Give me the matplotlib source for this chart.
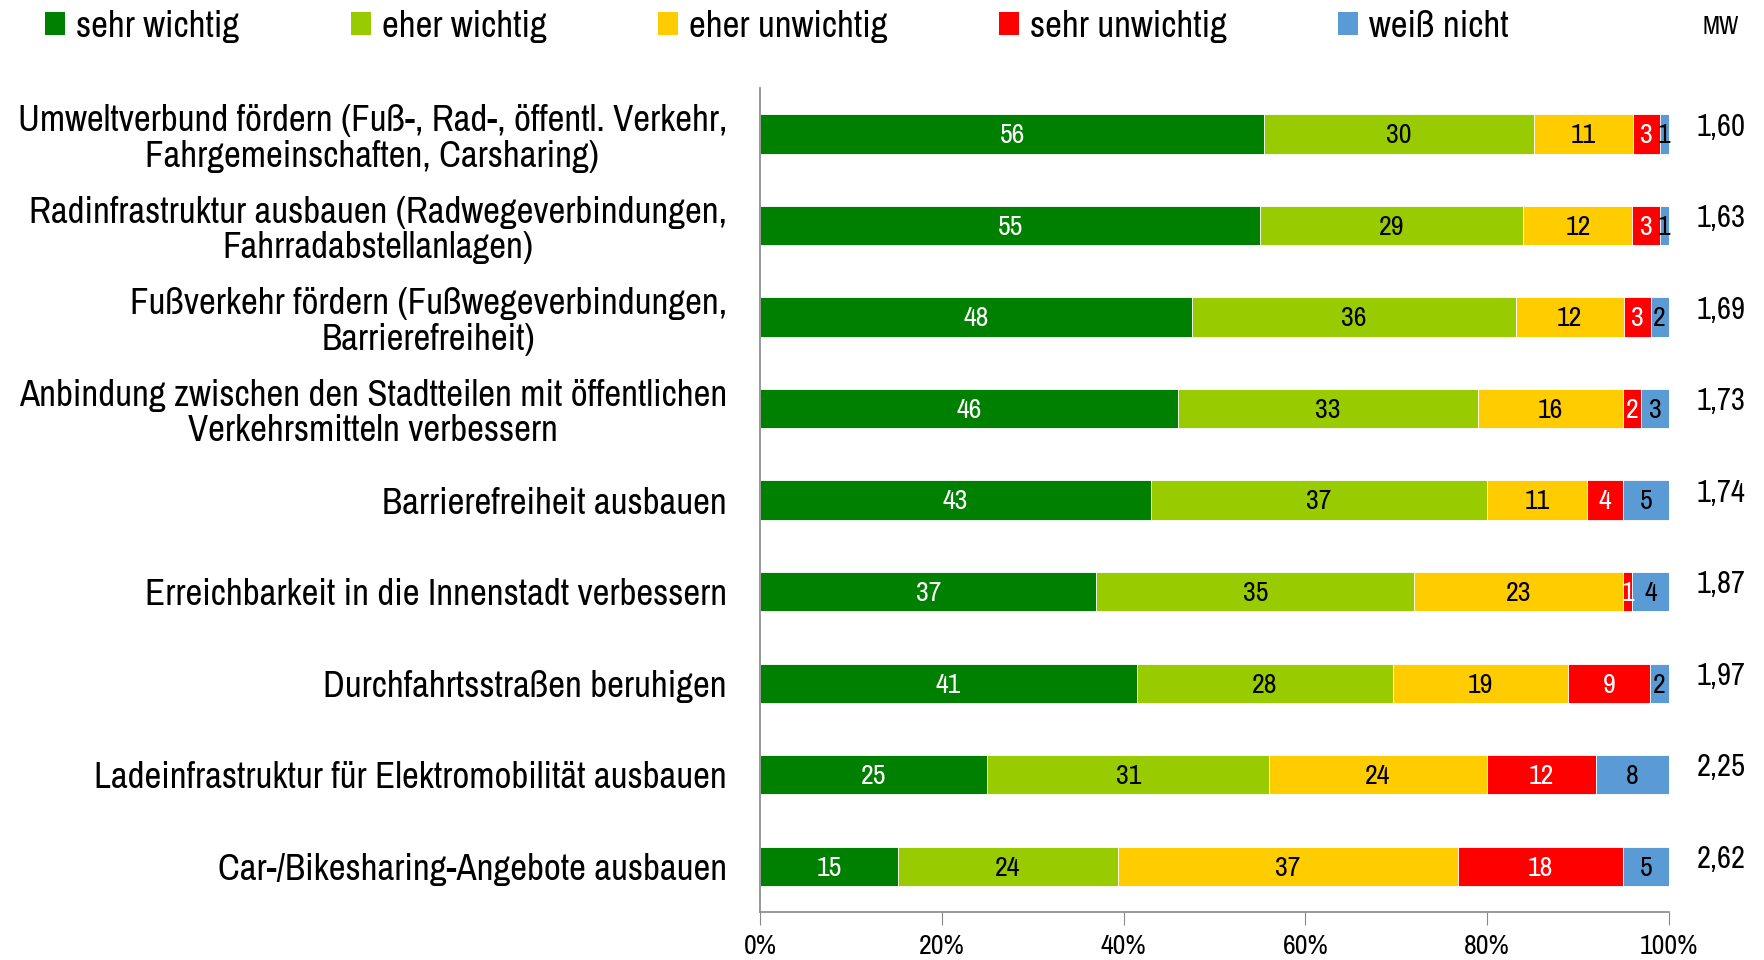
import matplotlib
matplotlib.use("Agg")
import matplotlib.pyplot as plt
from matplotlib.patches import Patch
import numpy as np

plt.rcParams['font.family'] = ['Archivo Narrow', 'DejaVu Sans']

categories = [
    "Umweltverbund fördern (Fuß-, Rad-, öffentl. Verkehr,\nFahrgemeinschaften, Carsharing)",
    "Radinfrastruktur ausbauen (Radwegeverbindungen,\nFahrradabstellanlagen)",
    "Fußverkehr fördern (Fußwegeverbindungen,\nBarrierefreiheit)",
    "Anbindung zwischen den Stadtteilen mit öffentlichen\nVerkehrsmitteln verbessern",
    "Barrierefreiheit ausbauen",
    "Erreichbarkeit in die Innenstadt verbessern",
    "Durchfahrtsstraßen beruhigen",
    "Ladeinfrastruktur für Elektromobilität ausbauen",
    "Car-/Bikesharing-Angebote ausbauen",
]
series_names = ["sehr wichtig", "eher wichtig", "eher unwichtig", "sehr unwichtig", "weiß nicht"]
sehr_wichtig   = [56, 55, 48, 46, 43, 37, 41, 25, 15]
eher_wichtig   = [30, 29, 36, 33, 37, 35, 28, 31, 24]
eher_unwichtig = [11, 12, 12, 16, 11, 23, 19, 24, 37]
sehr_unwichtig = [3, 3, 3, 2, 4, 1, 9, 12, 18]
weiss_nicht    = [1, 1, 2, 3, 5, 4, 2, 8, 5]
mw = ["1,60", "1,63", "1,69", "1,73", "1,74", "1,87", "1,97", "2,25", "2,62"]
xticklabels = ["0%", "20%", "40%", "60%", "80%", "100%"]

colors = ["#008000", "#99CC00", "#FFCC00", "#FF0000", "#5B9BD5"]
text_colors = ["white", "black", "black", "white", "black"]

data = np.array([sehr_wichtig, eher_wichtig, eher_unwichtig, sehr_unwichtig, weiss_nicht], dtype=float)
share = data / data.sum(axis=0) * 100

fig = plt.figure(figsize=(17.64, 9.6), dpi=100)
ax = fig.add_axes([0.431, 0.05, 0.515, 0.858])
y = np.arange(len(categories))
left = np.zeros(len(categories))
for i in range(5):
    bars = ax.barh(y, share[i], left=left, height=0.43, color=colors[i],
                   edgecolor="white", linewidth=0.6, label=series_names[i])
    for j, b in enumerate(bars):
        ax.text(left[j] + share[i][j] / 2, y[j] + 0.02, f"{int(data[i][j])}",
                ha="center", va="center", fontsize=20, color=text_colors[i])
    left += share[i]

ax.set_xlim(0, 100)
ax.set_ylim(8.5, -0.5)
ax.set_yticks(y)
ax.set_yticklabels(categories, fontsize=26.5, multialignment="center", linespacing=1.1)
ax.tick_params(axis="y", length=0, pad=24)
ax.set_xticks([0, 20, 40, 60, 80, 100])
ax.set_xticklabels(xticklabels, fontsize=20)
ax.tick_params(axis="x", direction="out", length=9, color="#888888", pad=7)
for s in ["top", "right"]:
    ax.spines[s].set_visible(False)
for s in ["left", "bottom"]:
    ax.spines[s].set_color("#888888")
    ax.spines[s].set_linewidth(1.2)

for j in range(len(categories)):
    ax.text(1.058, y[j] - 0.08, mw[j], transform=ax.get_yaxis_transform(),
            ha="center", va="center", fontsize=22)
fig.text(1721 / 1764, 1 - 26 / 960, "MW", ha="center", va="center", fontsize=18)

handles = [Patch(facecolor=c, edgecolor="none") for c in colors]
fig.legend(handles, series_names, loc="upper left", bbox_to_anchor=(0.013, 1.013),
           ncol=5, frameon=False, fontsize=26.5, handlelength=0.55, handleheight=0.55,
           handletextpad=0.3, columnspacing=3.02, borderaxespad=0.2)

fig.savefig("out.png", dpi=100)
